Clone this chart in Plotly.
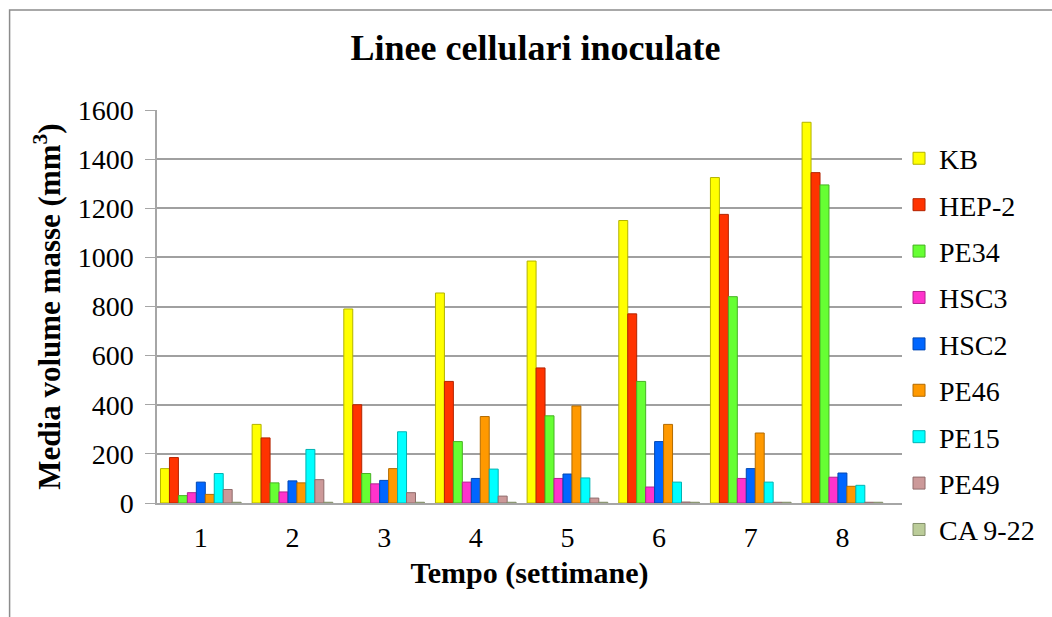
import plotly.graph_objects as go

weeks = ["1", "2", "3", "4", "5", "6", "7", "8"]
series_names = ["KB", "HEP-2", "PE34", "HSC3", "HSC2", "PE46", "PE15", "PE49", "CA 9-22"]
kb = [140, 320, 790, 855, 985, 1150, 1325, 1550]
hep2 = [185, 265, 400, 495, 550, 770, 1175, 1345]
pe34 = [30, 82, 120, 250, 355, 495, 840, 1295]
hsc3 = [42, 45, 78, 85, 100, 65, 100, 105]
hsc2 = [85, 90, 92, 100, 118, 250, 140, 122]
pe46 = [35, 82, 140, 352, 395, 320, 285, 68]
pe15 = [120, 218, 290, 138, 102, 85, 85, 72]
pe49 = [55, 95, 42, 28, 20, 4, 3, 3]
ca922 = [3, 3, 3, 3, 3, 3, 3, 3]
values = [kb, hep2, pe34, hsc3, hsc2, pe46, pe15, pe49, ca922]
colors = ["#FFFF00", "#FF3300", "#66FF33", "#FF33CC", "#0066FF", "#FF9900", "#00FFFF", "#CC9999", "#BBCC99"]
edges = ["#B3B300", "#B32400", "#47B324", "#B3248F", "#0047B3", "#B36B00", "#00B3B3", "#8F6B6B", "#838F6B"]

FONT = "Liberation Serif, Times New Roman, serif"

fig = go.Figure()
for i, (name, vals) in enumerate(zip(series_names, values)):
    fig.add_trace(go.Bar(
        x=weeks, y=vals, name=name, legendgroup=name,
        marker=dict(color=colors[i], line=dict(color=edges[i], width=1)),
    ))

fig.update_layout(
    width=1052, height=617,
    margin=dict(l=157, r=147, t=110, b=114),
    paper_bgcolor="white", plot_bgcolor="white",
    barmode="group", bargap=0.12, bargroupgap=0,
    font=dict(family=FONT, color="black", size=28),
    title=dict(text="<b>Linee cellulari inoculate</b>", x=0.508, xref="paper", xanchor="center",
               y=1 - 47 / 617, yanchor="middle", font=dict(size=36, family=FONT)),
    xaxis=dict(
        range=[-0.478, 7.65],
        showgrid=False, showline=True, linecolor="#A6A6A6", linewidth=2,
        ticks="", tickfont=dict(size=28, family=FONT), ticklabelstandoff=8,
        title=dict(text="<b>Tempo (settimane)</b>", font=dict(size=30, family=FONT), standoff=10),
    ),
    yaxis=dict(
        range=[0, 1600], dtick=200, showgrid=True, gridcolor="#A0A0A0", gridwidth=1.5,
        showline=True, linecolor="#A6A6A6", linewidth=1.5, ticks="outside", ticklen=10,
        tickcolor="#A6A6A6", tickfont=dict(size=28, family=FONT), zeroline=False,
        ticklabelstandoff=6,
        title=dict(text="<b>Media volume masse (mm<sup>3</sup>)</b>", font=dict(size=31, family=FONT), standoff=8),
    ),
    legend=dict(
        x=0.996, xanchor="left", y=0.94, yanchor="top",
        font=dict(size=28, family=FONT), tracegroupgap=7, traceorder="grouped",
        itemwidth=30, bgcolor="rgba(0,0,0,0)", maxheight=600,
    ),
    shapes=[dict(type="rect", xref="paper", yref="paper",
                 x0=-148 / 748, x1=1.35, y0=-0.3, y1=1 + 100 / 393,
                 line=dict(color="#8C8C8C", width=1.5), fillcolor="rgba(0,0,0,0)", layer="below")],
)

fig.write_html("out.html")
